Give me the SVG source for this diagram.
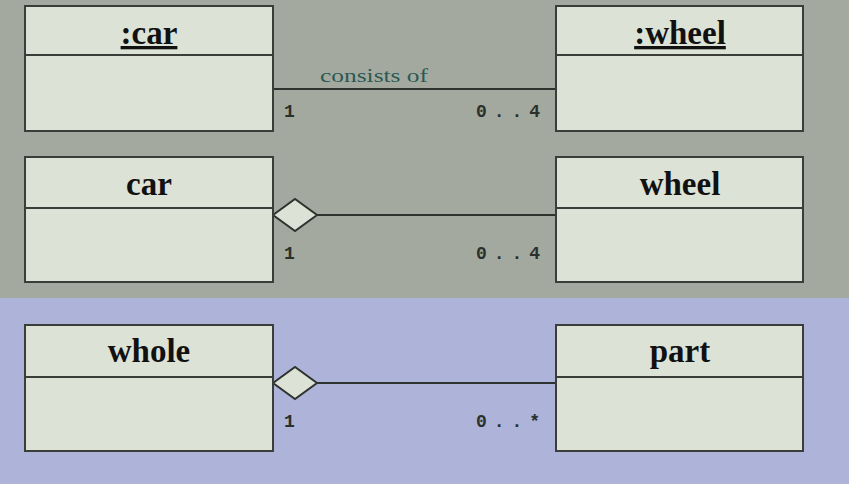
<svg xmlns="http://www.w3.org/2000/svg" width="849" height="484" viewBox="0 0 849 484">
<style>
.box{fill:#dde2d6;stroke:#3a3d38;stroke-width:2}
.div{stroke:#3a3d38;stroke-width:2}
.title{font-family:"Liberation Serif",serif;font-weight:bold;font-size:33px;fill:#111;text-anchor:middle}
.mult{font-family:"Liberation Mono",monospace;font-weight:bold;font-size:18px;fill:#2a302c}
.lbl{font-family:"Liberation Serif",serif;font-size:19px;fill:#2b5a54}
.line{stroke:#2f332e;stroke-width:2;fill:none}
.dia{fill:#dde2d6;stroke:#2f332e;stroke-width:2}
</style>
<rect x="0" y="0" width="849" height="298" fill="#a4a99f"/>
<rect x="0" y="298" width="849" height="186" fill="#aeb3da"/>
<g id="connectors">
<line class="line" x1="273" y1="89" x2="556" y2="89"/>
<text class="lbl" x="320" y="82" textLength="108" lengthAdjust="spacingAndGlyphs">consists of</text>
<text class="mult" x="284" y="117">1</text>
<text class="mult" x="476" y="117" textLength="64">0..4</text>
<line class="line" x1="317" y1="215" x2="556" y2="215"/>
<polygon class="dia" points="273,215 295,199 317,215 295,231"/>
<text class="mult" x="284" y="259">1</text>
<text class="mult" x="476" y="259" textLength="64">0..4</text>
<line class="line" x1="317" y1="383" x2="556" y2="383"/>
<polygon class="dia" points="273,383 295,367 317,383 295,399"/>
<text class="mult" x="284" y="427">1</text>
<text class="mult" x="476" y="427" textLength="64">0..*</text>
</g>
<g id="obj-car">
<rect class="box" x="25" y="6" width="248" height="125"/>
<line class="div" x1="25" y1="55" x2="273" y2="55"/>
<text class="title" x="149" y="44" text-decoration="underline">:car</text>
</g>
<g id="obj-wheel">
<rect class="box" x="556" y="6" width="247" height="125"/>
<line class="div" x1="556" y1="55" x2="803" y2="55"/>
<text class="title" x="680" y="44" text-decoration="underline">:wheel</text>
</g>
<g id="class-car">
<rect class="box" x="25" y="157" width="248" height="125"/>
<line class="div" x1="25" y1="208" x2="273" y2="208"/>
<text class="title" x="149" y="195">car</text>
</g>
<g id="class-wheel">
<rect class="box" x="556" y="157" width="247" height="125"/>
<line class="div" x1="556" y1="208" x2="803" y2="208"/>
<text class="title" x="680" y="195">wheel</text>
</g>
<g id="class-whole">
<rect class="box" x="25" y="325" width="248" height="126"/>
<line class="div" x1="25" y1="377" x2="273" y2="377"/>
<text class="title" x="149" y="362">whole</text>
</g>
<g id="class-part">
<rect class="box" x="556" y="325" width="247" height="126"/>
<line class="div" x1="556" y1="377" x2="803" y2="377"/>
<text class="title" x="680" y="362">part</text>
</g>
</svg>
